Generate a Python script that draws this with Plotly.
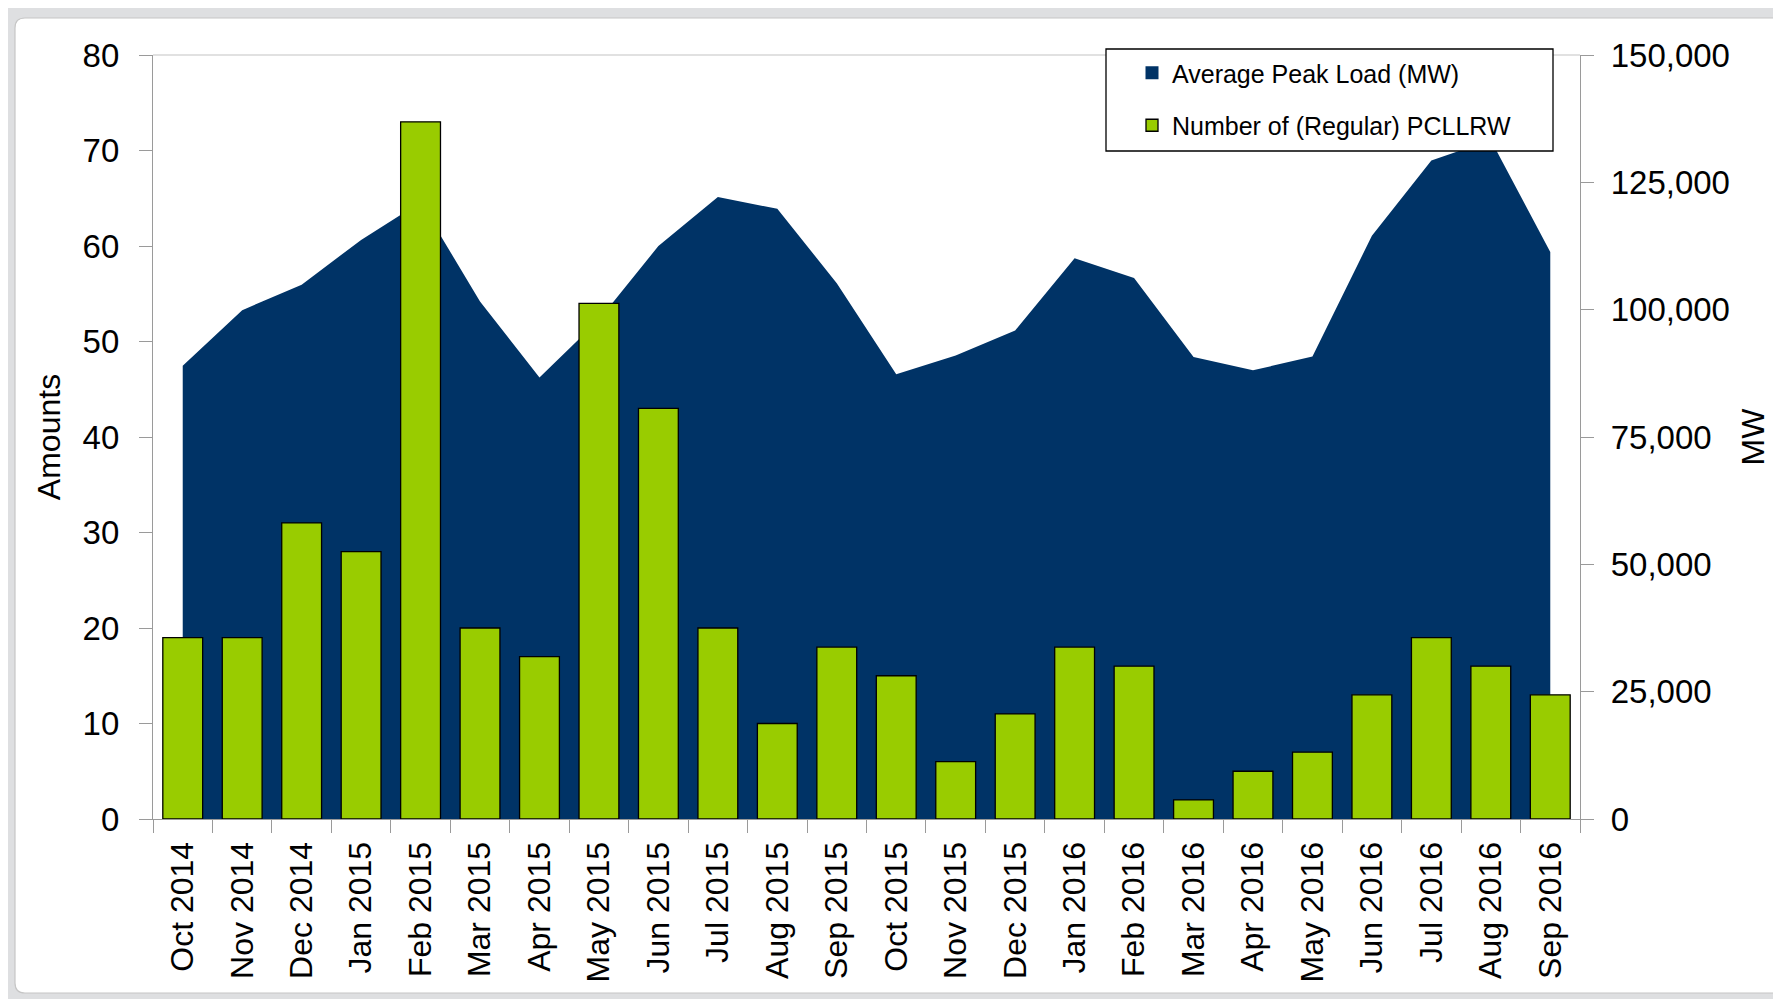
import plotly.graph_objects as go

months = ["Oct 2014", "Nov 2014", "Dec 2014", "Jan 2015", "Feb 2015", "Mar 2015",
          "Apr 2015", "May 2015", "Jun 2015", "Jul 2015", "Aug 2015", "Sep 2015",
          "Oct 2015", "Nov 2015", "Dec 2015", "Jan 2016", "Feb 2016", "Mar 2016",
          "Apr 2016", "May 2016", "Jun 2016", "Jul 2016", "Aug 2016", "Sep 2016"]

avg_peak_load_mw = [89000, 99900, 104900, 113700, 121100, 101600,
                    86700, 98000, 112500, 122100, 119800, 105200,
                    87300, 91000, 95900, 110100, 106200, 90700,
                    88100, 90800, 114500, 129300, 133300, 111300]

pcllrw_counts = [19, 19, 31, 28, 73, 20,
                 17, 54, 43, 20, 10, 18,
                 15, 6, 11, 18, 16, 2,
                 5, 7, 13, 19, 16, 13]

left_ticks = [0, 10, 20, 30, 40, 50, 60, 70, 80]
right_ticks = [0, 25000, 50000, 75000, 100000, 125000, 150000]

NAVY = "#003366"
GREEN = "#99CC00"
AXIS_GRAY = "#9a9a9a"
FONT = "Liberation Sans, Arial, sans-serif"

# page body has an 8px margin; the figure is sized so the plot lands where the reference has it
OFF = 8
W, H = 1781 - OFF, 999 - OFF
ML, MR, MT, MB = 153 - OFF, 201, 55 - OFF, 180
PW = W - ML - MR
PH = H - MT - MB


def px(sx):
    """screen x (pixels) -> paper x"""
    return (sx - OFF - ML) / PW


def py(sy):
    """screen y (pixels) -> paper y"""
    return (H - MB - (sy - OFF)) / PH


fig = go.Figure()

# Area (primary y axis, drawn on the right side)
fig.add_trace(go.Scatter(
    x=months, y=avg_peak_load_mw, mode="none", fill="tozeroy",
    fillcolor=NAVY, showlegend=False, yaxis="y", hoverinfo="x+y",
    name="Average Peak Load (MW)"))

# Legend proxy for the area series
fig.add_trace(go.Scatter(
    x=[None], y=[None], mode="markers", yaxis="y",
    marker=dict(symbol="square", size=13, color=NAVY),
    name="Average Peak Load (MW)", legendgroup="a"))

# Bars (overlay y axis, left side, drawn on top)
fig.add_trace(go.Bar(
    x=months, y=pcllrw_counts, yaxis="y2",
    marker=dict(color=GREEN, line=dict(color="#000000", width=1.3)),
    name="Number of (Regular) PCLLRW", legendgroup="b"))

# Frame shapes (screenshot panel)
r = 10
x0, y0, x1, y1 = 15, 18, 1800, 993
panel_path = (
    f"M {px(x0)},{py(y0 + r)} "
    f"Q {px(x0)},{py(y0)} {px(x0 + r)},{py(y0)} "
    f"L {px(x1)},{py(y0)} L {px(x1)},{py(y1)} "
    f"L {px(x0 + r)},{py(y1)} "
    f"Q {px(x0)},{py(y1)} {px(x0)},{py(y1 - r)} Z"
)

shapes = [
    dict(type="rect", xref="paper", yref="paper", x0=px(8), x1=px(1800),
         y0=py(4), y1=py(1010), fillcolor="#dedfe1", line=dict(width=0), layer="below"),
    dict(type="path", xref="paper", yref="paper", path=panel_path,
         fillcolor="#ffffff", line=dict(color="#c6c6c6", width=1.2), layer="below"),
    # top border of the plot area
    dict(type="line", xref="paper", yref="paper", x0=0, x1=1, y0=1, y1=1,
         line=dict(color="#c3c3c3", width=1.2), layer="above"),
    # legend box
    dict(type="rect", xref="paper", yref="paper", x0=px(1106), x1=px(1553),
         y0=py(151), y1=py(49), fillcolor="#ffffff",
         line=dict(color="#000000", width=1.3), layer="above"),
]

fig.update_layout(
    width=W, height=H,
    margin=dict(l=ML, r=MR, t=MT, b=MB, autoexpand=False),
    paper_bgcolor="white", plot_bgcolor="white",
    bargap=0.33,
    shapes=shapes,
    font=dict(family=FONT, color="#000000"),
    xaxis=dict(
        type="category", range=[-0.5, 23.5], automargin=False,
        showline=True, linecolor=AXIS_GRAY, linewidth=1.2,
        ticks="outside", tickson="boundaries", ticklen=13, tickcolor=AXIS_GRAY,
        tickangle=-90, tickfont=dict(family=FONT, size=32, color="#000000"),
        ticklabelstandoff=9,
        showgrid=False, zeroline=False,
    ),
    yaxis=dict(
        side="right", range=[0, 150000], tickvals=right_ticks, tickformat=",d",
        automargin=False,
        showline=True, linecolor=AXIS_GRAY, linewidth=1.2,
        ticks="outside", ticklen=13, tickcolor=AXIS_GRAY,
        tickfont=dict(family=FONT, size=33, color="#000000"),
        ticklabelstandoff=10,
        showgrid=False, zeroline=False,
        title=dict(text="MW", font=dict(family=FONT, size=32, color="#000000"),
                   standoff=12),
    ),
    yaxis2=dict(
        side="left", overlaying="y", range=[0, 80], tickvals=left_ticks,
        automargin=False,
        showline=True, linecolor=AXIS_GRAY, linewidth=1.2,
        ticks="outside", ticklen=13, tickcolor=AXIS_GRAY,
        tickfont=dict(family=FONT, size=33, color="#000000"),
        ticklabelstandoff=13,
        showgrid=False, zeroline=False,
        title=dict(text="Amounts", font=dict(family=FONT, size=32, color="#000000"),
                   standoff=12),
    ),
    legend=dict(
        x=px(1132), y=py(50), xanchor="left", yanchor="top",
        bgcolor="rgba(0,0,0,0)", borderwidth=0,
        font=dict(family=FONT, size=25, color="#000000"),
        tracegroupgap=17, traceorder="grouped",
        itemsizing="trace",
    ),
)

fig.write_html("out.html")
